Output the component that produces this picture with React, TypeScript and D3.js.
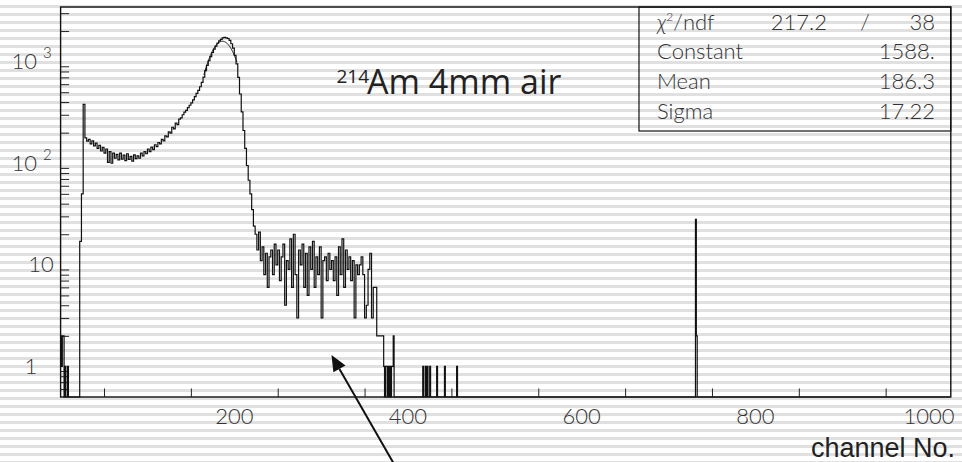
import React, { useEffect, useRef } from 'react';
import * as d3 from 'd3';

// counts (1024 channels, log y)
// ch 0-21, one value per channel
const edgeCounts = [2, 1, 2, 2, 0, 1, 0, 0, 1, 0, 0, 0, 0, 0, 0, 0, 0, 0, 0, 0, 0, 0];
// the following four are read at two channels per value, from ch 22 to ch 363
const riseCounts = [17, 50, 380];
const plateauCounts = [
	178, 165, 172, 155, 166, 148, 158, 140, 150, 132, 143, 126, 138, 102, 130, 100, 126, 112, 122,
	108, 126, 110, 120, 106, 124, 109, 117, 105, 121, 111, 118, 112, 126, 118, 130, 124, 138
];
const peakCounts = [
	130, 144, 136, 152, 146, 160, 155, 172, 166, 186, 182, 204, 198, 226, 218, 248, 240, 272, 280,
	300, 318, 332, 352, 372, 392, 420, 452, 486, 522, 566, 625, 705, 815, 920, 1020, 1120, 1230,
	1330, 1420, 1520, 1600, 1660, 1710, 1730, 1710, 1690, 1620, 1500, 1360, 1150, 950, 700, 480,
	320, 210, 140, 95, 68, 50, 35, 24
];
const tailCounts = [
	20, 14, 21, 11, 15, 8, 13, 6, 12, 14, 8, 16, 10, 14, 7, 12, 16, 4, 11, 9, 18, 6, 20, 8, 3,
	14, 10, 16, 6, 13, 5, 15, 9, 17, 6, 12, 8, 15, 3, 11, 12, 7, 13, 9, 11, 7, 12, 5, 15, 8, 18,
	6, 14, 9, 12, 7, 11, 3, 10, 8, 10, 12, 8, 3, 4, 9, 13, 3, 6, 6
];
// ch 364-383, one value per channel
const cutoffCounts = [2, 2, 2, 2, 2, 2, 2, 2, 1, 0, 1, 1, 0, 1, 0, 1, 0, 1, 1, 2];
const scatterHits = [[417, 1], [420, 1], [422, 1], [425, 1], [433, 1], [442, 1], [456, 1]];
const pulserHits = [[731, 28], [732, 2]];

const fitParams = { constant: 1588, mean: 186.3, sigma: 17.22, from: 165, to: 203 };
const chi2Value = '217.2';
const ndfValue = '38';
const statsRows = [['Constant', '1588.'], ['Mean', '186.3'], ['Sigma', '17.22']];

const xMajor = [0, 200, 400, 600, 800, 1000];
const xLabels = [200, 400, 600, 800, 1000];
const yLabels = [
	{ value: 1000, base: '10', exp: '3' },
	{ value: 100, base: '10', exp: '2' },
	{ value: 10, base: '10', exp: '' },
	{ value: 1, base: '1', exp: '' }
];

const W = 962;
const H = 462;
const thinFont = 'Lato, "DejaVu Sans", sans-serif';

const buildChannels = () => {
	const n = new Array(1024).fill(0);
	edgeCounts.forEach((c, i) => { n[i] = c; });
	let ch = 22;
	[...riseCounts, ...plateauCounts, ...peakCounts, ...tailCounts].forEach((c) => {
		n[ch] = c;
		n[ch + 1] = c;
		ch += 2;
	});
	cutoffCounts.forEach((c, i) => { n[364 + i] = c; });
	[...scatterHits, ...pulserHits].forEach(([c, v]) => { n[c] = v; });
	return n;
};

const drawSpectrum = (svgEl: SVGSVGElement) => {
	const svg = d3.select(svgEl);
	svg.selectAll('*').remove();

	const x = d3.scaleLinear().domain([0, 1025]).range([60.6, 950.8]);
	const y = d3.scaleLog().domain([0.5, 3450]).range([397, 7]);
	const [yMin] = y.domain();
	const cy = (v: number) => y(Math.max(v, yMin));

	// striped background
	const defs = svg.append('defs');
	const pat = defs.append('pattern')
		.attr('id', 'stripes')
		.attr('patternUnits', 'userSpaceOnUse')
		.attr('width', W)
		.attr('height', 8);
	pat.append('rect').attr('width', W).attr('height', 8).attr('fill', '#fff');
	pat.append('rect').attr('y', 5).attr('width', W).attr('height', 3).attr('fill', '#e0e0e0');
	svg.append('rect').attr('width', W).attr('height', H).attr('fill', 'url(#stripes)');

	// frame
	svg.append('rect')
		.attr('x', x(0))
		.attr('y', y(3450))
		.attr('width', x(1025) - x(0))
		.attr('height', y(0.5) - y(3450))
		.attr('fill', 'none')
		.attr('stroke', '#111')
		.attr('stroke-width', 1.4);

	// x ticks (inward)
	const xAxisG = svg.append('g').attr('transform', `translate(0,${ y(0.5) })`);
	xAxisG.call(d3.axisBottom(x).tickValues(xMajor).tickSize(-17).tickFormat(() => ''));
	xAxisG.call(d3.axisBottom(x).tickValues(d3.range(50, 1025, 100)).tickSize(-8.5).tickFormat(() => ''));
	xAxisG.selectAll('.domain').remove();
	xAxisG.selectAll('line').attr('stroke', '#222').attr('stroke-width', 1);

	// y ticks (inward)
	const minorY: number[] = [];
	[0.1, 1, 10, 100, 1000].forEach((d) => {
		d3.range(2, 10).forEach((k) => {
			const v = k * d;
			if (v > 0.5 && v < 3450) minorY.push(v);
		});
	});
	const yAxisG = svg.append('g').attr('transform', `translate(${ x(0) },0)`);
	yAxisG.call(d3.axisLeft(y).tickValues([1, 10, 100, 1000]).tickSize(-17).tickFormat(() => ''));
	yAxisG.call(d3.axisLeft(y).tickValues(minorY).tickSize(-8.5).tickFormat(() => ''));
	yAxisG.selectAll('.domain').remove();
	yAxisG.selectAll('line').attr('stroke', '#222').attr('stroke-width', 1);

	// x labels
	svg.append('g')
		.selectAll('text')
		.data(xLabels)
		.enter()
		.append('text')
		.attr('x', (d) => x(d))
		.attr('y', 424)
		.attr('text-anchor', 'middle')
		.attr('font-family', thinFont)
		.attr('font-weight', 300)
		.attr('font-size', 22)
		.attr('fill', '#333')
		.text((d) => d);

	// y labels
	yLabels.forEach((t) => {
		const ty = y(t.value);
		if (t.exp) {
			svg.append('text')
				.attr('x', 37).attr('y', ty + 7.5)
				.attr('text-anchor', 'end')
				.attr('font-family', thinFont).attr('font-weight', 300)
				.attr('font-size', 22).attr('fill', '#333')
				.text(t.base);
			svg.append('text')
				.attr('x', 43).attr('y', ty - 3.6)
				.attr('font-family', thinFont).attr('font-weight', 300)
				.attr('font-size', 15).attr('fill', '#333')
				.text(t.exp);
		} else {
			svg.append('text')
				.attr('x', t.base === '1' ? 31 : 41).attr('y', ty + 7.5)
				.attr('text-anchor', 'middle')
				.attr('font-family', thinFont).attr('font-weight', 300)
				.attr('font-size', 22).attr('fill', '#333')
				.text(t.base);
		}
	});

	// histogram as steps
	const counts = buildChannels();
	const pts: [number, number][] = counts.map((c, i) => [x(i), cy(c)]);
	pts.push([x(counts.length), cy(counts[counts.length - 1])]);
	svg.append('path')
		.attr('d', d3.line().curve(d3.curveStepAfter)(pts))
		.attr('fill', 'none')
		.attr('stroke', '#111')
		.attr('stroke-width', 1.2);

	// gaussian fit from the stats box
	const { constant, mean, sigma, from, to } = fitParams;
	const gauss = (c: number) => constant * Math.exp(-0.5 * ((c - mean) / sigma) ** 2);
	const fitPts: [number, number][] = d3.range(from, to + 0.01, 0.5).map((c) => [x(c), y(gauss(c))]);
	svg.append('path')
		.attr('d', d3.line()(fitPts))
		.attr('fill', 'none')
		.attr('stroke', '#111')
		.attr('stroke-width', 1);

	// stats box
	svg.append('rect')
		.attr('x', 639).attr('y', 7)
		.attr('width', x(1025) - 639).attr('height', 124)
		.attr('fill', 'none')
		.attr('stroke', '#111')
		.attr('stroke-width', 1.2);
	const statText = (tx: number, ty: number, anchor: string) => svg.append('text')
		.attr('x', tx).attr('y', ty)
		.attr('text-anchor', anchor)
		.attr('font-family', thinFont).attr('font-weight', 300)
		.attr('font-size', 22).attr('fill', '#333');
	const chiLabel = statText(657, 29.5, 'start');
	chiLabel.append('tspan').attr('font-style', 'italic').text('χ');
	chiLabel.append('tspan').attr('font-size', 12).attr('dy', -9).text('2');
	chiLabel.append('tspan').attr('dy', 9).text('/ndf');
	statText(827, 29.5, 'end').text(chi2Value);
	statText(865, 29.5, 'middle').text('/');
	statText(935, 29.5, 'end').text(ndfValue);
	statsRows.forEach(([name, val], i) => {
		statText(657, 58.5 + i * 30, 'start').text(name);
		statText(935, 58.5 + i * 30, 'end').text(val);
	});

	// title
	svg.append('text')
		.attr('x', 336.5).attr('y', 83)
		.attr('font-family', '"Open Sans", sans-serif')
		.attr('font-size', 19).attr('fill', '#222')
		.text('214');
	svg.append('text')
		.attr('x', 367).attr('y', 93.5)
		.attr('font-family', '"Open Sans", sans-serif')
		.attr('font-size', 34).attr('fill', '#222')
		.text('Am 4mm air');

	// axis title
	svg.append('text')
		.attr('x', 955).attr('y', 457)
		.attr('text-anchor', 'end')
		.attr('font-family', '"Liberation Sans", Arial, sans-serif')
		.attr('font-size', 27).attr('fill', '#222')
		.text('channel No.');

	// arrow pointing at the tail
	const tip: [number, number] = [331.5, 355];
	const tail: [number, number] = [394, 464];
	const dx = tail[0] - tip[0];
	const dy = tail[1] - tip[1];
	const len = Math.hypot(dx, dy);
	const ux = dx / len;
	const uy = dy / len;
	const base: [number, number] = [tip[0] + ux * 16, tip[1] + uy * 16];
	svg.append('line')
		.attr('x1', base[0]).attr('y1', base[1])
		.attr('x2', tail[0]).attr('y2', tail[1])
		.attr('stroke', '#111')
		.attr('stroke-width', 2);
	svg.append('polygon')
		.attr('points', [
			tip,
			[base[0] - uy * 7, base[1] + ux * 7],
			[base[0] + uy * 7, base[1] - ux * 7]
		].map((p) => p.join(',')).join(' '))
		.attr('fill', '#111');
};

const App = () => {
	const ref = useRef<SVGSVGElement>(null);

	useEffect(() => {
		if (ref.current) drawSpectrum(ref.current);
	}, []);

	return (
		<svg
			ref={ ref }
			width={ W }
			height={ H }
			style={{ position: 'absolute', left: 0, top: 0, display: 'block' }}
		/>
	);
};

export default App;
